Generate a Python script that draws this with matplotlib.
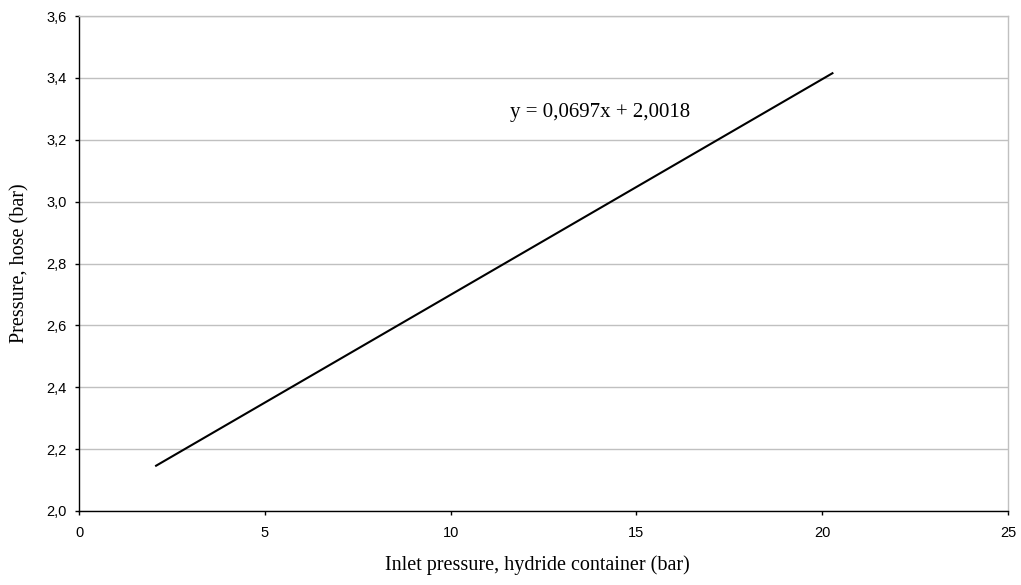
import matplotlib
matplotlib.use("Agg")
import matplotlib.pyplot as plt
from matplotlib.ticker import FuncFormatter, MultipleLocator

# trendline fitted to the measurements
slope = 0.0697
intercept = 2.0018
x_range = [2.05, 20.3]
y_range = [slope * x + intercept for x in x_range]
equation = "y = 0,0697x + 2,0018"

fig = plt.figure(figsize=(10.21, 5.85), dpi=100)
ax = fig.add_axes([79 / 1021, 1 - 511 / 585, (1008 - 79) / 1021, (511 - 16) / 585])

ax.plot(x_range, y_range, color="black", lw=1.5, solid_capstyle="butt")
ax.text(11.6, 3.274, equation, family="Liberation Serif", fontsize=15,
        va="baseline", ha="left")

ax.set_xlim(0, 25)
ax.set_ylim(2.0, 3.6)
ax.xaxis.set_major_locator(MultipleLocator(5))
ax.yaxis.set_major_locator(MultipleLocator(0.2))
ax.yaxis.set_major_formatter(FuncFormatter(lambda v, p: ("%.1f" % v).replace(".", ",")))
ax.grid(axis="y", color="#c0c0c0", lw=1)
ax.set_axisbelow(True)

for side in ["top", "right"]:
    ax.spines[side].set_color("#c0c0c0")
    ax.spines[side].set_linewidth(1)
for side in ["left", "bottom"]:
    ax.spines[side].set_color("black")
    ax.spines[side].set_linewidth(1)

ax.tick_params(direction="out", length=3, width=1, colors="black", labelsize=10.5)
ax.tick_params(axis="x", pad=8)
ax.tick_params(axis="y", pad=6)
for lab in ax.get_xticklabels() + ax.get_yticklabels():
    lab.set_family("Liberation Sans")

ax.set_xlabel("Inlet pressure, hydride container (bar)", family="Liberation Serif",
              fontsize=14.5, va="center")
ax.set_ylabel("Pressure, hose (bar)", family="Liberation Serif", fontsize=14.5,
              va="center")
ax.xaxis.set_label_coords((537 - 79) / 929, (511 - 565) / 495)
ax.yaxis.set_label_coords((20 - 79) / 929, 0.5)

fig.savefig("out.png", dpi=100)
